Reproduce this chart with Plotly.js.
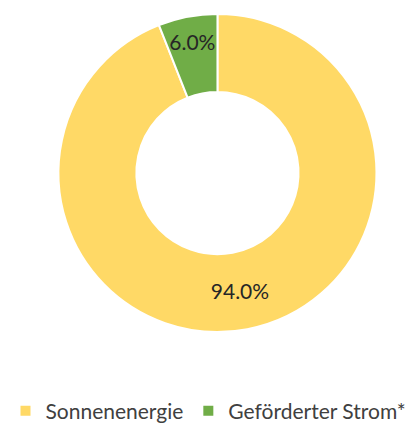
<!DOCTYPE html>
<html><head><meta charset="utf-8">
<script src="https://cdn.plot.ly/plotly-3.0.1.min.js"></script>
<style>html,body{margin:0;padding:0;background:#fff}#c{width:417px;height:423px}</style>
</head><body><div id="c"></div>
<script>
const categories = ["Sonnenenergie", "Geförderter Strom*"];
const values = [94.0, 6.0];
const colors = ["#FFD966", "#70AD47"];

Plotly.newPlot("c", [{
  type: "pie",
  labels: categories,
  values: values,
  hole: 0.51,
  sort: false,
  direction: "clockwise",
  rotation: 0,
  domain: {x: [0.043, 1], y: [0, 1]},
  marker: {colors: colors, line: {color: "#ffffff", width: 2}},
  textinfo: "percent",
  texttemplate: "%{percent:.1%}",
  textposition: "inside",
  insidetextorientation: "horizontal",
  textfont: {family: "Lato, 'Liberation Sans', sans-serif", size: 21, color: "#262626"},
  hoverinfo: "none"
}], {
  width: 417, height: 423,
  margin: {l: 0, r: 0, t: 14, b: 91},
  paper_bgcolor: "#ffffff",
  uniformtext: {mode: "show", minsize: 21},
  showlegend: true,
  legend: {
    orientation: "h", xref: "container", yref: "container",
    x: 0.5, xanchor: "center", y: 0.028, yanchor: "middle",
    font: {family: "Lato, 'Liberation Sans', sans-serif", size: 21, color: "#404040"},
    itemwidth: 30, traceorder: "normal"
  }
}, {displayModeBar: false, staticPlot: true});
</script>
</body></html>
